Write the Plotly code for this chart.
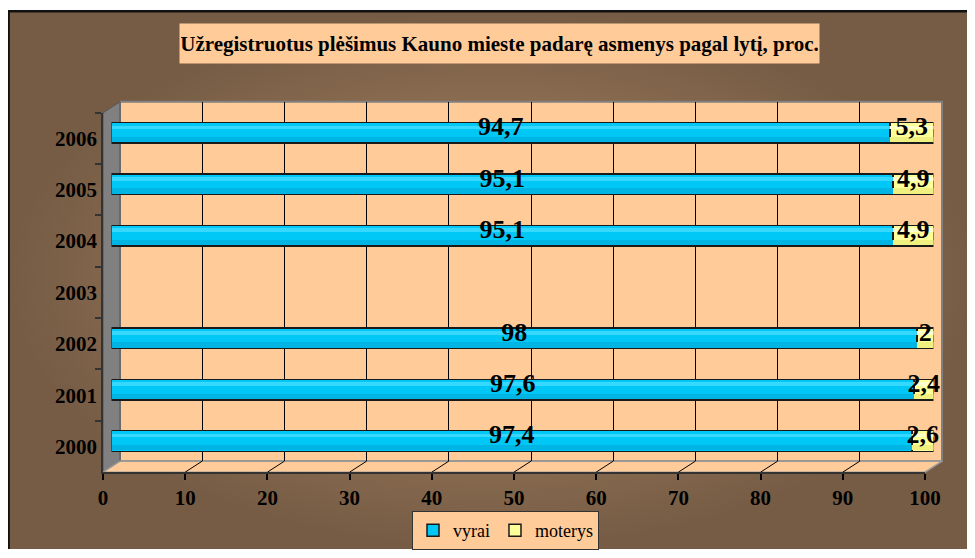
import plotly.graph_objects as go

# ---------------- data ----------------
years = ["2000", "2001", "2002", "2003", "2004", "2005", "2006"]
vyrai = [97.4, 97.6, 98, None, 95.1, 95.1, 94.7]
moterys = [2.6, 2.4, 2, None, 4.9, 4.9, 5.3]
x_ticks = [0, 10, 20, 30, 40, 50, 60, 70, 80, 90, 100]
title_text = "Užregistruotus plėšimus Kauno mieste padarę asmenys pagal lytį, proc."

# ---------------- geometry helpers (page pixels -> figure) ----------------
W, H = 967, 542
OX, OY = 8, 8


def fx(X):
    return X - OX


def fy(Y):
    return Y - OY


def dom_x(a, b):
    return [fx(a) / W, fx(b) / W]


def dom_y(top, bottom):
    return [1 - fy(bottom) / H, 1 - fy(top) / H]


# front frame of the 3-D box and the depth offset
FX0, FX1, FY0, FY1 = 103, 925, 113, 473
DX, DY = 17, -11
BX0, BX1, BY0, BY1 = FX0 + DX, FX1 + DX, FY0 + DY, FY1 + DY
MX0, MX1, MY0, MY1 = FX0 + DX / 2, FX1 + DX / 2, FY0 + DY / 2, FY1 + DY / 2

FONT = "Liberation Serif"
CYAN = "#00C8F6"
YELLOW = "#FFFF99"
PEACH = "#FFCC99"
OUT = "#1A1A1A"

fig = go.Figure()


# ---------------- subplot 1 : background, walls (pixel coordinates) ----------------
def poly(pts, fill, line, lw=1.5):
    xs = [fx(p[0]) for p in pts] + [fx(pts[0][0])]
    ys = [fy(p[1]) for p in pts] + [fy(pts[0][1])]
    return go.Scatter(x=xs, y=ys, mode="lines", fill="toself", fillcolor=fill,
                      line=dict(color=line, width=lw), hoverinfo="skip",
                      showlegend=False, xaxis="x", yaxis="y")


# gradient chart background
fig.add_trace(go.Scatter(
    x=[0, W, W, 0, 0], y=[2, 2, H, H, 2], mode="lines", fill="toself",
    fillgradient=dict(type="radial", colorscale=[[0, "#A4845F"], [0.6, "#8C6E52"], [1, "#765C45"]]),
    line=dict(width=0), hoverinfo="skip", showlegend=False, xaxis="x", yaxis="y"))

# black border (left & top)
fig.add_trace(go.Scatter(x=[0.6, 0.6, W], y=[H, 3.2, 3.2], mode="lines",
                         line=dict(color="#111111", width=2.5), hoverinfo="skip",
                         showlegend=False, xaxis="x", yaxis="y"))

# back wall
fig.add_trace(poly([(BX0, BY0), (BX1, BY0), (BX1, BY1), (BX0, BY1)], PEACH, "#808080", 2))
# side wall
fig.add_trace(poly([(FX0, FY0), (BX0, BY0), (BX0, BY1), (FX0, FY1)], "#808080", "#555555", 1))
# floor
fig.add_trace(poly([(FX0, FY1), (BX0, BY1), (BX1, BY1), (FX1, FY1)], PEACH, "#9A9A9A", 1.5))

# floor diagonals continuing the gridlines
sx = (FX1 - FX0) / 100.0
for v in x_ticks[1:-1]:
    fig.add_trace(go.Scatter(
        x=[fx(FX0 + v * sx), fx(BX0 + v * sx)], y=[fy(FY1), fy(BY1)], mode="lines",
        line=dict(color="#000000", width=1), hoverinfo="skip", showlegend=False,
        xaxis="x", yaxis="y"))

# ---------------- subplot 2 : back wall gridlines ----------------
fig.add_trace(go.Scatter(x=[0], y=[0], mode="markers", marker=dict(opacity=0),
                         hoverinfo="skip", showlegend=False, xaxis="x2", yaxis="y2"))

# ---------------- subplot 3 : bars ----------------
fig.add_trace(go.Bar(
    name="vyrai", orientation="h", x=vyrai, y=years, width=0.4,
    marker=dict(color=CYAN, line=dict(color=OUT, width=1.5)),
    xaxis="x3", yaxis="y3", hoverinfo="skip"))
fig.add_trace(go.Bar(
    name="moterys", orientation="h", x=moterys, y=years, width=0.4,
    marker=dict(color=YELLOW, line=dict(color=OUT, width=1.5)),
    xaxis="x3", yaxis="y3", hoverinfo="skip"))

# cylinder shading bands (overlay on the bar axes)
for vals, col in [(vyrai, "#37D8FF"), (moterys, "#FFFFCC")]:
    fig.add_trace(go.Bar(orientation="h", x=vals, y=years, width=0.07, offset=0.07,
                         marker=dict(color=col, line=dict(width=0)), showlegend=False,
                         xaxis="x6", yaxis="y6", hoverinfo="skip"))
for vals, col in [(vyrai, "#00B4E4"), (moterys, "#F0F080")]:
    fig.add_trace(go.Bar(orientation="h", x=vals, y=years, width=0.1, offset=-0.18,
                         marker=dict(color=col, line=dict(width=0)), showlegend=False,
                         xaxis="x7", yaxis="y7", hoverinfo="skip"))

# ---------------- subplot 4 : front axes ----------------
fig.add_trace(go.Scatter(x=[0] * len(years), y=years, mode="markers",
                         marker=dict(opacity=0), hoverinfo="skip", showlegend=False,
                         xaxis="x4", yaxis="y4"))

# ---------------- subplot 5 : data labels ----------------
lab_x, lab_y, lab_t = [], [], []
for yr, a, b in zip(years, vyrai, moterys):
    if a is None:
        continue
    lab_x += [a / 2, a + b / 2]
    lab_y += [yr, yr]
    lab_t += [f"{a:g}".replace(".", ","), f"{b:g}".replace(".", ",")]
fig.add_trace(go.Scatter(
    x=lab_x, y=lab_y, text=lab_t, mode="text", textposition="middle center",
    textfont=dict(family=FONT, size=26, color="black", weight="bold"),
    hoverinfo="skip", showlegend=False, xaxis="x5", yaxis="y5", cliponaxis=False))

hidden = dict(visible=False, fixedrange=True, automargin=False)
cat = dict(type="category", categoryorder="array", categoryarray=years, range=[-0.5, 6.5])
tickfont = dict(family=FONT, size=21, color="black", weight="bold")
bar_x = dict(domain=dom_x(MX0, MX1), range=[0, 100], **hidden)

fig.update_layout(
    width=W, height=H, autosize=False,
    margin=dict(l=0, r=0, t=0, b=0, pad=0),
    paper_bgcolor="white", plot_bgcolor="rgba(0,0,0,0)",
    barmode="stack", hovermode=False,
    xaxis=dict(domain=[0, 1], range=[0, W], **hidden),
    yaxis=dict(domain=[0, 1], range=[H, 0], **hidden),
    xaxis2=dict(domain=dom_x(BX0, BX1), range=[0, 100], anchor="y2", showgrid=True,
                gridcolor="#000000", gridwidth=1, tickvals=x_ticks[1:-1],
                showticklabels=False, ticks="", showline=False, zeroline=False,
                fixedrange=True, automargin=False),
    yaxis2=dict(domain=dom_y(BY0, BY1), anchor="x2", **hidden),
    xaxis3=dict(anchor="y3", **bar_x),
    yaxis3=dict(domain=dom_y(MY0, MY1), anchor="x3", **cat, visible=False, automargin=False),
    xaxis6=dict(anchor="y6", overlaying="x3", **bar_x),
    yaxis6=dict(domain=dom_y(MY0, MY1), anchor="x6", overlaying="y3", **cat, visible=False),
    xaxis7=dict(anchor="y7", overlaying="x3", **bar_x),
    yaxis7=dict(domain=dom_y(MY0, MY1), anchor="x7", overlaying="y3", **cat, visible=False),
    xaxis4=dict(domain=dom_x(FX0, FX1), range=[0, 100], anchor="y4", tickvals=x_ticks,
                ticks="outside", ticklen=6, tickcolor="#000000", tickwidth=1.5,
                showline=True, linecolor="#333333", linewidth=1.5, showgrid=False,
                zeroline=False, tickfont=tickfont, ticklabelstandoff=0, fixedrange=True,
                automargin=False),
    yaxis4=dict(domain=dom_y(FY0, FY1), anchor="x4", **cat, tickson="boundaries",
                ticks="outside", ticklen=6, tickcolor="#333333", tickwidth=1.5,
                showline=True, linecolor="#333333", linewidth=1.5, showgrid=False,
                tickfont=tickfont, fixedrange=True, automargin=False),
    xaxis5=dict(domain=dom_x(MX0, MX1), range=[0, 100], anchor="y5", **hidden),
    yaxis5=dict(domain=dom_y(MY0 - 4, MY1 - 4), anchor="x5", **cat, visible=False,
                automargin=False),
    legend=dict(orientation="h", x=(505.5 - OX) / W, xanchor="center",
                y=1 - (531 - OY) / H, yanchor="middle", bgcolor=PEACH,
                bordercolor="#333333", borderwidth=1, itemwidth=30,
                font=dict(family=FONT, size=18, color="black"), traceorder="normal"),
    annotations=[dict(
        text=title_text, x=(499.5 - OX) / W, y=1 - (43.5 - OY) / H, xref="paper",
        yref="paper", xanchor="center", yanchor="middle", showarrow=False,
        bgcolor=PEACH, width=637, height=37,
        font=dict(family=FONT, size=21, color="black", weight="bold"))],
)

fig.write_html("out.html")
